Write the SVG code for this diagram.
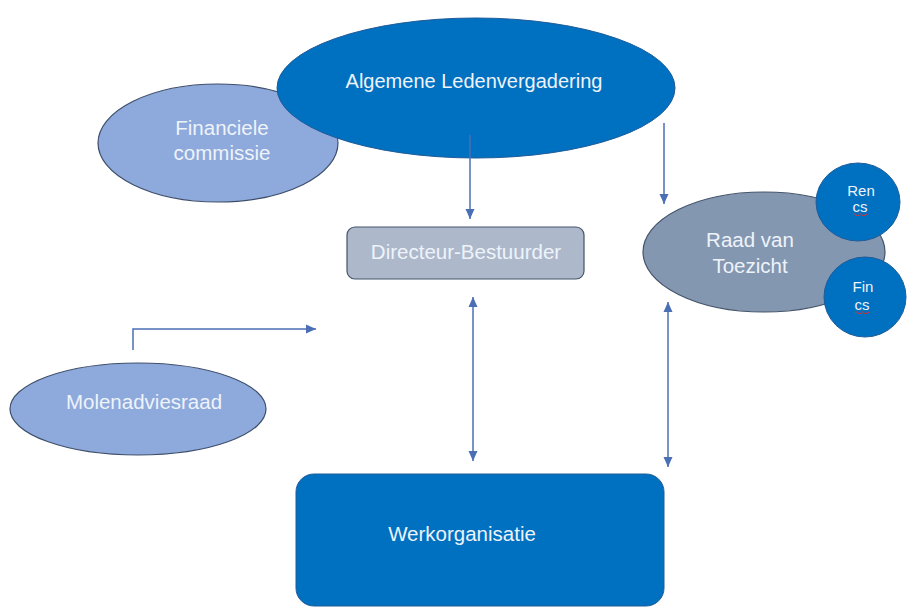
<svg xmlns="http://www.w3.org/2000/svg" width="907" height="608" viewBox="0 0 907 608">
<style>
.t{font-family:"Liberation Sans",Arial,sans-serif;fill:#EEF3FA;text-anchor:middle}
.dark{fill:#0070C0;stroke:#1F5C99;stroke-width:1}
.light{fill:#8EA9DB;stroke:#3E4F6B;stroke-width:1.2}
.gray{fill:#8497B0;stroke:#44546A;stroke-width:1.2}
.conn{fill:none;stroke:#4A6FB5;stroke-width:1.5}
.sq{fill:none;stroke:#E03030;stroke-width:1}
</style>
<defs>
<marker id="ah" viewBox="0 0 10 10" refX="10" refY="5" markerWidth="10" markerHeight="10" markerUnits="userSpaceOnUse" orient="auto-start-reverse">
<path d="M0,0.5 L10,5 L0,9.5 z" fill="#4A6FB5"/>
</marker>
</defs>
<rect width="907" height="608" fill="#FFFFFF"/>
<g id="financiele-commissie">
<ellipse class="light" cx="218" cy="143" rx="120" ry="59"/>
<text class="t" x="222" y="135" font-size="20.5">Financiele</text>
<text class="t" x="222" y="160" font-size="20.5">commissie</text>
</g>
<g id="algemene-ledenvergadering">
<ellipse class="dark" cx="476" cy="88" rx="199" ry="70"/>
<text class="t" x="474" y="88" font-size="20">Algemene Ledenvergadering</text>
</g>
<g id="directeur-bestuurder">
<rect x="347" y="227" width="237" height="52" rx="8" fill="#ADB9CA" stroke="#44546A" stroke-width="1.2"/>
<text class="t" x="466" y="259" font-size="20.5">Directeur-Bestuurder</text>
</g>
<g id="raad-van-toezicht">
<ellipse class="gray" cx="764" cy="252" rx="121" ry="60"/>
<text class="t" x="750" y="247" font-size="20.5">Raad van</text>
<text class="t" x="750" y="273" font-size="20.5">Toezicht</text>
</g>
<g id="ren-cs">
<ellipse class="dark" cx="858" cy="202" rx="42" ry="39"/>
<text class="t" x="861" y="196" font-size="15">Ren</text>
<text class="t" x="860" y="212" font-size="15">cs</text>
<path class="sq" d="M853,215 q1.5,-2 3,0 t3,0 t3,0 t3,0 t2,0"/>
</g>
<g id="fin-cs">
<ellipse class="dark" cx="865" cy="297" rx="41" ry="40"/>
<text class="t" x="863" y="292" font-size="15">Fin</text>
<text class="t" x="862" y="310" font-size="15">cs</text>
<path class="sq" d="M855,313 q1.5,-2 3,0 t3,0 t3,0 t3,0 t2,0"/>
</g>
<g id="molenadviesraad">
<ellipse class="light" cx="138" cy="409" rx="128" ry="46"/>
<text class="t" x="144" y="409" font-size="20.5">Molenadviesraad</text>
</g>
<g id="werkorganisatie">
<rect x="296" y="474" width="368" height="132" rx="18" class="dark"/>
<text class="t" x="462" y="541" font-size="20.5">Werkorganisatie</text>
</g>
<g id="connectors">
<path class="conn" d="M470,135 V219" marker-end="url(#ah)"/>
<path class="conn" d="M664,123 V204" marker-end="url(#ah)"/>
<path class="conn" d="M473,297 V461" marker-start="url(#ah)" marker-end="url(#ah)"/>
<path class="conn" d="M668,302 V467" marker-start="url(#ah)" marker-end="url(#ah)"/>
<path class="conn" d="M133,350 V329 H316" marker-end="url(#ah)"/>
</g>
</svg>
